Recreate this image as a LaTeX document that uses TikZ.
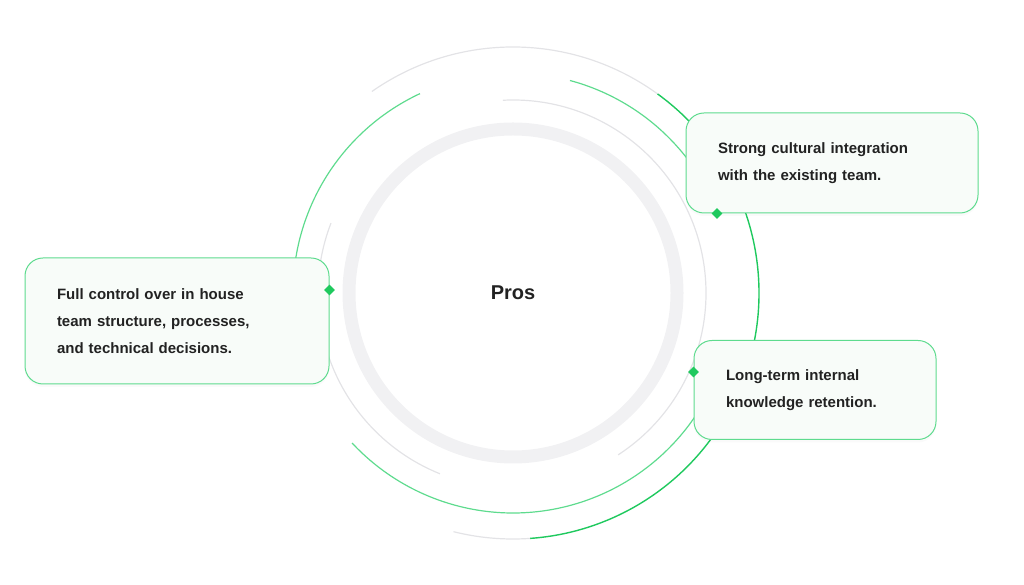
\documentclass[tikz,border=0pt]{standalone}
\usepackage{fontspec}
\setmainfont{Liberation Sans}
\usetikzlibrary{shapes.geometric,shadows}
\definecolor{brightgreen}{HTML}{1FC95E}
\definecolor{softgreen}{HTML}{5EDB8E}
\definecolor{arcgray}{HTML}{E3E3E6}
\definecolor{ringgray}{HTML}{F1F1F3}
\definecolor{boxfill}{HTML}{F8FCF9}
\definecolor{inktext}{HTML}{222222}

\tikzset{
  probox/.style={draw=softgreen, line width=1pt, fill=boxfill, rounded corners=18pt,
    inner xsep=32pt, align=left, text=inktext,
    font=\fontsize{15}{27}\selectfont\bfseries},
  pointer/.style={diamond, fill=brightgreen, inner sep=0pt, minimum size=11pt}
}

\begin{document}
\begin{tikzpicture}[x=1pt, y=1pt]
    \useasboundingbox (0,0) rectangle (1024,585);
    \coordinate (c) at (513,292);

    % inner ring
    \draw[ringgray, line width=13pt] (c) circle[radius=164];
    \node (pros) at (c) {\fontsize{20}{24}\selectfont\bfseries\color{inktext}Pros};

    % thin gray arcs
    \draw[arcgray, line width=1.2pt] (c) ++(93:193) arc[start angle=93, end angle=-57, radius=193];
    \draw[arcgray, line width=1.2pt] (c) ++(159:195) arc[start angle=159, end angle=248, radius=195];

    % outer arcs
    \draw[arcgray, line width=1.2pt] (c) ++(125:246) arc[start angle=125, end angle=54, radius=246];
    \draw[brightgreen, line width=1.4pt] (c) ++(54:246) arc[start angle=54, end angle=-86, radius=246];
    \draw[arcgray, line width=1.2pt] (c) ++(-86:246) arc[start angle=-86, end angle=-104, radius=246];

    % light green arcs
    \draw[softgreen, line width=1.2pt] (c) ++(115:220) arc[start angle=115, end angle=175, radius=220];
    \draw[softgreen, line width=1.2pt] (c) ++(-137:220) arc[start angle=-137, end angle=-25, radius=220];
    \draw[softgreen, line width=1.2pt] (c) ++(75:220) arc[start angle=75, end angle=35, radius=220];

    % boxes
    \node[probox, text width=228pt, minimum width=292pt, minimum height=100pt,
      drop shadow={opacity=0.04, shadow xshift=0pt, shadow yshift=-3pt}] (cultural) at (832,422)
      {Strong cultural integration\\with the existing team.};
    \node[probox, text width=240pt, minimum width=304pt, minimum height=126pt,
      drop shadow={opacity=0.04, shadow xshift=0pt, shadow yshift=-3pt}] (control) at (177,264)
      {Full control over in house\\team structure, processes,\\and technical decisions.};
    \node[probox, text width=178pt, minimum width=242pt, minimum height=99pt,
      drop shadow={opacity=0.04, shadow xshift=0pt, shadow yshift=-3pt}] (knowledge) at (815,195)
      {Long-term internal\\knowledge retention.};

    % pointers
    \node[pointer] (p1) at ([xshift=-115pt]cultural.south) {};
    \node[pointer] (p2) at ([yshift=31pt]control.east) {};
    \node[pointer] (p3) at ([yshift=18pt]knowledge.west) {};
\end{tikzpicture}
\end{document}
